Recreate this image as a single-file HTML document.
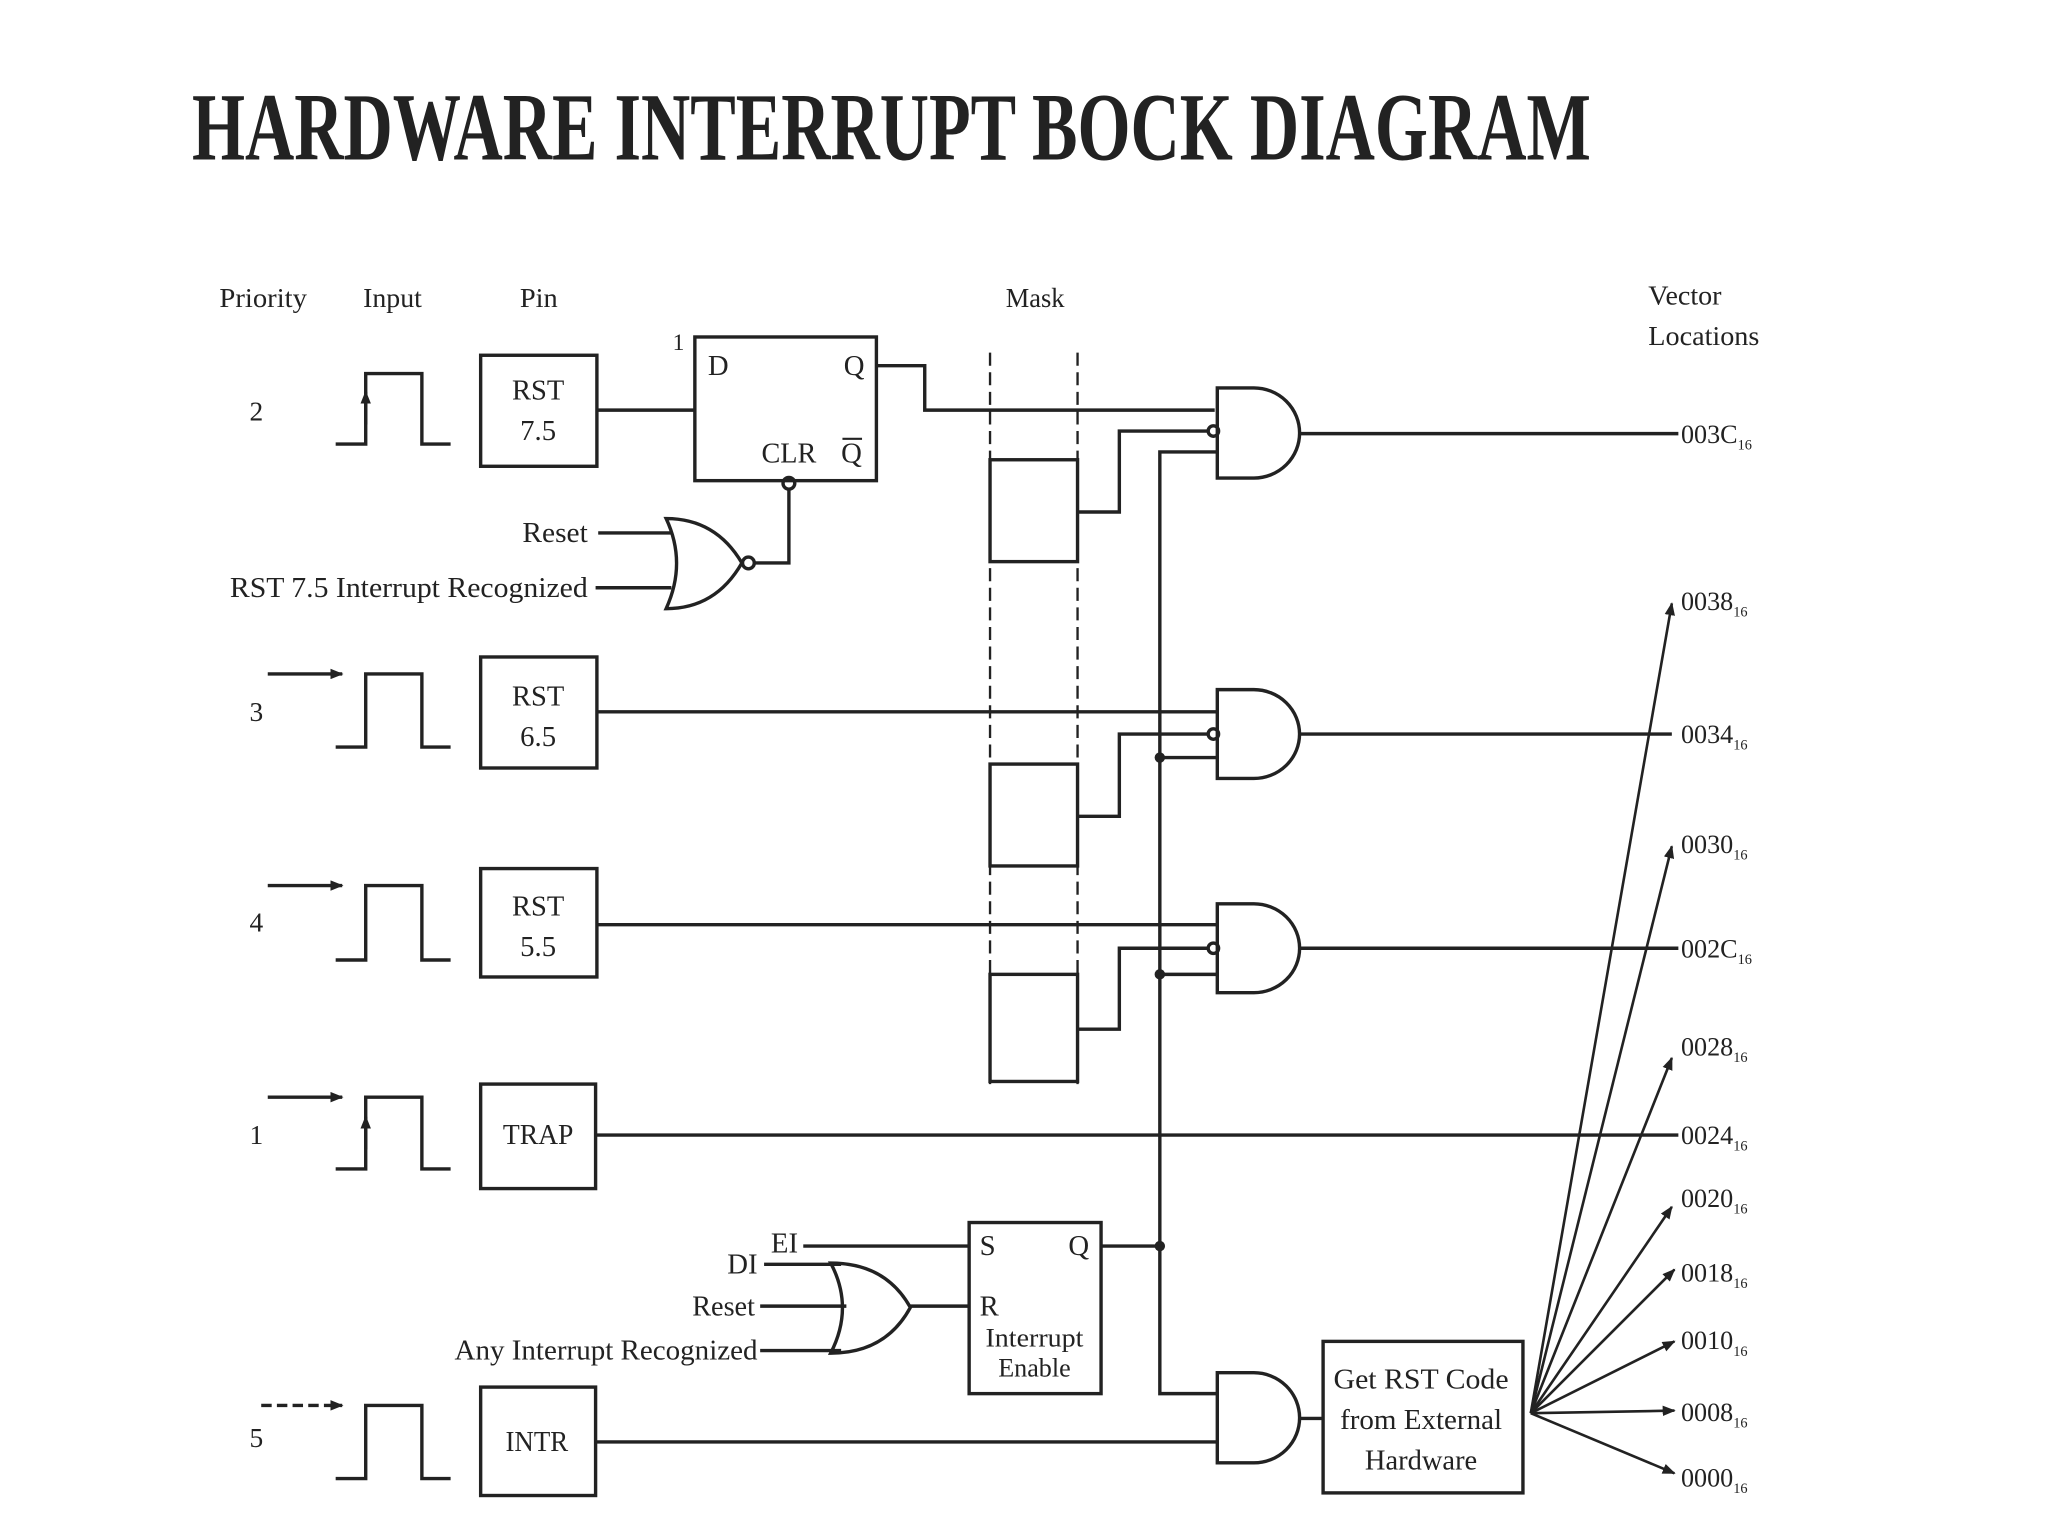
<!DOCTYPE html>
<html><head><meta charset="utf-8"><style>
html,body{margin:0;padding:0;background:#fff;}
svg{display:block;}
text{font-family:"Liberation Serif",serif;fill:#222;}
</style></head><body>
<svg width="2048" height="1536" viewBox="0 0 1568 1176" xmlns="http://www.w3.org/2000/svg">
<defs>
<marker id="ah" markerWidth="10" markerHeight="8" refX="9" refY="4" orient="auto" markerUnits="userSpaceOnUse"><path d="M0,0 L10,4 L0,8 Z" fill="#222"/></marker>
</defs>
<rect width="1568" height="1176" fill="#fff"/>
<text x="147" y="122" font-size="74" font-weight="bold" fill="#111" textLength="1071" lengthAdjust="spacingAndGlyphs">HARDWARE INTERRUPT BOCK DIAGRAM</text>

<g font-size="21">
<text x="168" y="235" textLength="67" lengthAdjust="spacingAndGlyphs">Priority</text>
<text x="278" y="235" textLength="45" lengthAdjust="spacingAndGlyphs">Input</text>
<text x="398" y="235" textLength="29" lengthAdjust="spacingAndGlyphs">Pin</text>
<text x="770" y="235" textLength="45" lengthAdjust="spacingAndGlyphs">Mask</text>
<text x="1262" y="233" textLength="56" lengthAdjust="spacingAndGlyphs">Vector</text>
<text x="1262" y="264" textLength="85" lengthAdjust="spacingAndGlyphs">Locations</text>
<text x="191" y="322">2</text>
<text x="191" y="552">3</text>
<text x="191" y="713">4</text>
<text x="191" y="876">1</text>
<text x="191" y="1108">5</text>
</g>

<g stroke="#222" stroke-width="2.6" fill="none">
<!-- pulses -->
<path d="M257,340 H280 V286 H323 V340 H345"/>
<path d="M257,572 H280 V516 H323 V572 H345"/>
<path d="M257,735 H280 V678 H323 V735 H345"/>
<path d="M257,895 H280 V840 H323 V895 H345"/>
<path d="M257,1132 H280 V1076 H323 V1132 H345"/>
<!-- input arrows -->
<line x1="205" y1="516" x2="262" y2="516" marker-end="url(#ah)"/>
<line x1="205" y1="678" x2="262" y2="678" marker-end="url(#ah)"/>
<line x1="205" y1="840" x2="262" y2="840" marker-end="url(#ah)"/>
<line x1="200" y1="1076" x2="262" y2="1076" stroke-dasharray="8,4" marker-end="url(#ah)"/>
<line x1="280" y1="325" x2="280" y2="300" marker-end="url(#ah)"/>
<line x1="280" y1="880" x2="280" y2="855" marker-end="url(#ah)"/>

<!-- pin boxes -->
<rect x="368" y="272" width="89" height="85"/>
<rect x="368" y="503" width="89" height="85"/>
<rect x="368" y="665" width="89" height="83"/>
<rect x="368" y="830" width="88" height="80"/>
<rect x="368" y="1062" width="88" height="83"/>

<!-- flip flop -->
<rect x="532" y="258" width="139" height="110"/>
<line x1="457" y1="314" x2="532" y2="314"/>
<path d="M671,280 H708 V314 H930"/>
<!-- NOR -->
<line x1="458" y1="408" x2="514" y2="408"/>
<line x1="456" y1="450" x2="514" y2="450"/>
<path d="M510,397 Q526,431 510,466 Q548,466 568,431 Q548,397 510,397 Z"/>
<circle cx="573" cy="431" r="4.5"/>
<path d="M578,431 H604 V374"/>
<circle cx="604" cy="370" r="4.5"/>

<!-- mask -->
<line x1="758" y1="270" x2="758" y2="830" stroke-dasharray="10,5" stroke-width="1.8"/>
<line x1="825" y1="270" x2="825" y2="830" stroke-dasharray="10,5" stroke-width="1.8"/>
<rect x="758" y="352" width="67" height="78"/>
<rect x="758" y="585" width="67" height="78"/>
<rect x="758" y="746" width="67" height="82"/>
<path d="M825,392 H857 V330 H925"/>
<path d="M825,625 H857 V562 H925"/>
<path d="M825,788 H857 V726 H925"/>

<!-- rows through -->
<line x1="457" y1="545" x2="932" y2="545"/>
<line x1="457" y1="708" x2="932" y2="708"/>
<line x1="456" y1="869" x2="1285" y2="869"/>
<line x1="456" y1="1104" x2="932" y2="1104"/>

<!-- bus -->
<path d="M932,346 H888 V1067 H932"/>
<line x1="888" y1="580" x2="932" y2="580"/>
<line x1="888" y1="746" x2="932" y2="746"/>

<!-- AND gates -->
<path d="M932,297 H960 A35,34.5 0 0 1 960,366 H932 Z"/>
<path d="M932,528 H960 A35,34 0 0 1 960,596 H932 Z"/>
<path d="M932,692 H960 A35,34 0 0 1 960,760 H932 Z"/>
<path d="M932,1051 H960 A35,34.5 0 0 1 960,1120 H932 Z"/>
<circle cx="929" cy="330" r="4"/>
<circle cx="929" cy="562" r="4"/>
<circle cx="929" cy="726" r="4"/>
<line x1="995" y1="332" x2="1285" y2="332"/>
<line x1="995" y1="562" x2="1280" y2="562"/>
<line x1="995" y1="726" x2="1285" y2="726"/>
<line x1="995" y1="1086" x2="1013" y2="1086"/>

<!-- interrupt enable -->
<line x1="615" y1="954" x2="742" y2="954"/>
<line x1="585" y1="968" x2="644" y2="968"/>
<line x1="582" y1="1000" x2="648" y2="1000"/>
<line x1="582" y1="1034" x2="644" y2="1034"/>
<path d="M636,967 Q654,1001 636,1036 Q678,1036 697,1001 Q678,967 636,967 Z"/>
<line x1="697" y1="1000" x2="742" y2="1000"/>
<rect x="742" y="936" width="101" height="131"/>
<line x1="843" y1="954" x2="888" y2="954"/>

<rect x="1013" y="1027" width="153" height="116"/>

<!-- fan -->
<g stroke-width="2" marker-end="url(#ah)">
<line x1="1172" y1="1082" x2="1280" y2="462"/>
<line x1="1172" y1="1082" x2="1280" y2="648"/>
<line x1="1172" y1="1082" x2="1280" y2="810"/>
<line x1="1172" y1="1082" x2="1280" y2="924"/>
<line x1="1172" y1="1082" x2="1282" y2="972"/>
<line x1="1172" y1="1082" x2="1282" y2="1027"/>
<line x1="1172" y1="1082" x2="1282" y2="1080"/>
<line x1="1172" y1="1082" x2="1282" y2="1128"/>
</g>
</g>
<g fill="#222">
<circle cx="888" cy="580" r="4"/>
<circle cx="888" cy="746" r="4"/>
<circle cx="888" cy="954" r="4"/>
</g>

<g font-size="22" text-anchor="middle">
<text x="412" y="306" textLength="40" lengthAdjust="spacingAndGlyphs">RST</text>
<text x="412" y="337">7.5</text>
<text x="412" y="540" textLength="40" lengthAdjust="spacingAndGlyphs">RST</text>
<text x="412" y="571">6.5</text>
<text x="412" y="701" textLength="40" lengthAdjust="spacingAndGlyphs">RST</text>
<text x="412" y="732">5.5</text>
<text x="412" y="876" textLength="54" lengthAdjust="spacingAndGlyphs">TRAP</text>
<text x="411" y="1111" textLength="48" lengthAdjust="spacingAndGlyphs">INTR</text>
<text x="1088" y="1063" textLength="134" lengthAdjust="spacingAndGlyphs">Get RST Code</text>
<text x="1088" y="1094" textLength="124" lengthAdjust="spacingAndGlyphs">from External</text>
<text x="1088" y="1125" textLength="86" lengthAdjust="spacingAndGlyphs">Hardware</text>
<text x="792" y="1031" font-size="20" textLength="75" lengthAdjust="spacingAndGlyphs">Interrupt</text>
<text x="792" y="1054" font-size="20">Enable</text>
</g>
<g font-size="22">
<text x="542" y="287">D</text>
<text x="646" y="287">Q</text>
<text x="583" y="354" textLength="42" lengthAdjust="spacingAndGlyphs">CLR</text>
<text x="644" y="354">Q</text>
<line x1="645" y1="336" x2="660" y2="336" stroke="#222" stroke-width="1.6"/>
<text x="515" y="268" font-size="18">1</text>
<text x="750" y="961">S</text>
<text x="818" y="961">Q</text>
<text x="750" y="1007">R</text>
<text x="450" y="415" text-anchor="end" textLength="50" lengthAdjust="spacingAndGlyphs">Reset</text>
<text x="450" y="457" text-anchor="end" textLength="274" lengthAdjust="spacingAndGlyphs">RST 7.5 Interrupt Recognized</text>
<text x="611" y="959" text-anchor="end">EI</text>
<text x="580" y="975" text-anchor="end">DI</text>
<text x="578" y="1007" text-anchor="end" textLength="48" lengthAdjust="spacingAndGlyphs">Reset</text>
<text x="580" y="1041" text-anchor="end" textLength="232" lengthAdjust="spacingAndGlyphs">Any Interrupt Recognized</text>
</g>
<g font-size="20">
<text x="1287" y="339">003C<tspan font-size="11" dy="5">16</tspan></text>
<text x="1287" y="467">0038<tspan font-size="11" dy="5">16</tspan></text>
<text x="1287" y="569">0034<tspan font-size="11" dy="5">16</tspan></text>
<text x="1287" y="653">0030<tspan font-size="11" dy="5">16</tspan></text>
<text x="1287" y="733">002C<tspan font-size="11" dy="5">16</tspan></text>
<text x="1287" y="808">0028<tspan font-size="11" dy="5">16</tspan></text>
<text x="1287" y="876">0024<tspan font-size="11" dy="5">16</tspan></text>
<text x="1287" y="924">0020<tspan font-size="11" dy="5">16</tspan></text>
<text x="1287" y="981">0018<tspan font-size="11" dy="5">16</tspan></text>
<text x="1287" y="1033">0010<tspan font-size="11" dy="5">16</tspan></text>
<text x="1287" y="1088">0008<tspan font-size="11" dy="5">16</tspan></text>
<text x="1287" y="1138">0000<tspan font-size="11" dy="5">16</tspan></text>
</g>
</svg>
</body></html>
